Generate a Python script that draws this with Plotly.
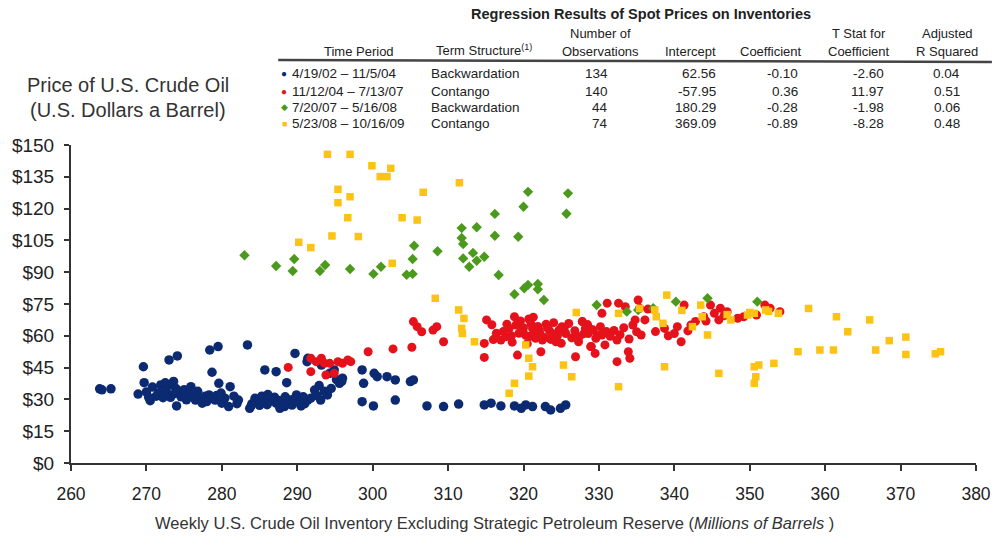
import plotly.graph_objects as go

# ---------------- data ----------------
blue_x = [263.8, 264.1, 265.3, 269.6, 268.9, 269.7, 270.5, 273.0, 274.1, 271.9, 272.6, 273.4, 273.9, 274.3, 274.0,
          275.9, 276.5, 277.4, 278.3, 279.1, 279.6, 280.0, 281.1, 280.9, 282.2, 278.4, 279.5, 278.7, 283.4,
          283.7, 284.4, 284.8, 285.7, 286.6, 287.2, 287.7, 288.3, 289.0, 289.9, 290.5, 291.4, 292.3, 293.1, 294.0, 294.5, 295.6,
          285.7, 287.2, 288.6, 289.7, 291.3, 293.2, 294.3, 294.9, 291.4,
          298.6, 298.8, 300.2, 300.6, 301.9, 303.0, 305.0, 305.4, 298.6, 300.1, 303.0, 307.2, 309.4, 311.4,
          314.8, 315.7, 317.0, 318.8, 319.7, 320.3, 321.2, 322.9, 323.6, 324.9, 325.6,
          270.0, 270.8, 271.3, 271.6, 272.2, 272.8, 273.2, 273.8, 274.6, 275.0, 275.3, 275.7, 276.2, 276.8, 277.0,
          277.8, 278.0, 278.6, 279.3, 279.9, 280.4, 281.6, 282.0, 270.3, 272.5, 273.6,
          284.0, 285.0, 285.3, 286.0, 286.3, 287.0, 287.5, 288.0, 288.7, 289.3, 289.6, 290.2, 290.8, 291.0, 291.8,
          292.6, 292.9, 293.6, 295.2, 295.9, 296.0, 288.4, 286.1, 283.9]
blue_y = [35.0, 34.5, 35.0, 45.4, 32.5, 37.9, 29.4, 48.6, 50.5, 36.8, 34.4, 36.8, 35.2, 33.6, 26.9,
          36.0, 29.7, 28.2, 32.1, 29.7, 37.6, 28.2, 36.0, 26.6, 29.7, 53.3, 54.9, 42.8, 55.7,
          25.8, 30.5, 29.7, 29.7, 30.5, 28.2, 25.8, 26.6, 29.7, 32.1, 26.9, 29.7, 34.4, 29.7, 32.1, 35.2, 37.6,
          43.9, 43.1, 37.9, 51.7, 47.8, 46.2, 42.3, 43.9, 49.4,
          43.9, 37.6, 42.3, 40.7, 40.7, 39.2, 38.4, 39.2, 28.9, 26.9, 29.7, 26.9, 26.6, 27.8,
          27.4, 28.2, 26.9, 26.9, 25.8, 27.4, 26.6, 26.6, 25.0, 25.8, 27.4,
          33.5, 35.8, 31.5, 33.0, 30.8, 32.5, 31.0, 32.8, 31.2, 34.6, 29.8, 32.5, 31.0, 33.8, 30.8,
          31.5, 29.0, 30.5, 31.8, 33.0, 30.6, 31.5, 28.0, 31.0, 37.8, 38.5,
          28.0, 27.2, 31.5, 27.5, 29.0, 31.0, 29.5, 28.6, 28.0, 27.3, 30.3, 28.8, 31.2, 28.0, 30.6,
          31.8, 36.5, 33.8, 39.3, 38.5, 40.0, 31.2, 32.3, 27.0]

red_x = [288.8, 291.8, 292.5, 293.2, 293.6, 293.8, 294.3, 294.9, 295.4, 296.0, 296.7, 297.1, 291.8,
         299.4, 302.7, 305.2, 305.4, 305.9, 306.5, 308.0, 308.5, 309.4, 315.1, 314.8, 314.8,
         316.4, 317.0, 317.7, 318.1, 318.8, 319.0, 319.2, 319.9, 320.3, 320.7, 321.0, 321.2, 321.4, 321.6, 322.1,
         322.5, 322.3, 323.0, 323.4, 323.8, 324.3, 324.7, 325.1, 325.6, 326.9, 327.1, 327.8, 328.2, 328.6, 329.0, 329.6,
         327.8, 328.7, 327.4, 328.9, 329.5, 330.8, 330.4, 332.4, 332.4, 333.9, 334.1, 332.6, 333.5, 335.2, 335.4,
         334.5, 335.0, 335.6, 336.1, 338.7, 340.0, 340.9, 340.4, 341.3, 342.2, 343.9, 344.8, 345.3, 346.1, 347.0,
         345.9, 349.2, 350.9, 352.0, 352.7, 354.0, 330.4, 331.1,
         317.3, 317.8, 318.4, 318.5, 319.4, 319.6, 320.0, 320.5, 320.9, 321.3, 321.9, 322.2, 322.8, 323.2, 323.6,
         324.0, 324.5, 325.0, 325.4, 326.0, 326.4, 326.8, 327.3, 328.0, 328.5, 329.2, 329.8, 330.2, 331.0, 331.5,
         332.0, 332.8, 333.3, 334.0, 334.8, 336.5, 337.5, 339.2, 341.8, 342.8, 344.2, 346.6, 348.4, 316.0, 315.8]
red_y = [45.1, 49.4, 47.8, 49.4, 47.0, 41.5, 47.0, 42.3, 47.8, 47.0, 48.6, 47.8, 43.1,
         52.5, 53.8, 54.6, 66.7, 64.3, 61.9, 62.7, 64.3, 57.2, 67.5, 56.4, 49.8,
         61.2, 58.0, 59.6, 63.5, 69.0, 65.1, 50.9, 62.6, 60.2, 67.9, 65.6, 63.5, 61.2, 58.8, 62.7,
         58.0, 52.5, 65.5, 62.7, 61.1, 57.2, 62.7, 64.3, 61.1, 50.1, 59.6, 66.7, 63.5, 61.1, 54.9, 58.8,
         66.7, 63.5, 59.6, 54.9, 51.7, 55.7, 60.4, 58.0, 47.8, 52.5, 49.4, 75.4, 73.7, 76.9, 73.0,
         65.1, 61.9, 60.4, 67.5, 63.5, 61.1, 57.2, 64.3, 74.5, 65.1, 69.0, 74.5, 70.6, 73.0, 71.4,
         67.5, 69.0, 69.8, 74.5, 73.0, 71.4, 70.6, 75.4,
         62.0, 65.5, 60.0, 57.0, 61.2, 67.0, 63.8, 56.3, 59.8, 68.8, 64.4, 61.0, 59.2, 63.6, 58.3,
         66.2, 60.0, 56.5, 63.2, 65.8, 59.0, 62.4, 57.2, 61.0, 65.3, 62.8, 60.5, 64.3, 62.0, 59.8,
         62.5, 60.5, 63.8, 58.5, 67.5, 72.6, 62.0, 60.0, 62.3, 66.8, 67.0, 69.5, 68.3, 58.2, 65.2]

green_x = [283.0, 287.2, 289.4, 289.6, 293.0, 293.7, 297.0, 300.1, 301.1, 304.5, 305.3, 305.3, 305.5, 308.6,
           311.8, 311.8, 312.0, 312.0, 312.8, 313.3, 313.8, 313.8, 314.8, 316.2, 316.2, 319.3, 320.0, 320.6,
           325.7, 325.9, 316.7, 318.8, 320.1, 320.6, 321.9, 321.9, 322.7,
           329.7, 333.7, 335.2, 337.2, 340.2, 344.4, 351.0]
green_y = [98.0, 92.9, 90.6, 96.2, 90.6, 93.4, 91.5, 89.2, 92.6, 88.8, 89.2, 96.2, 102.5, 99.9,
           110.8, 106.1, 103.3, 96.5, 92.6, 99.1, 95.4, 111.2, 97.3, 117.5, 107.2, 106.7, 120.9, 127.9,
           117.6, 127.2, 88.7, 79.6, 82.4, 84.0, 84.4, 81.9, 76.9,
           74.5, 71.4, 72.2, 73.0, 76.1, 77.7, 76.1]

yellow_x = [294.0, 297.0, 295.4, 297.0, 295.4, 296.7, 294.6, 290.2, 291.8, 299.9, 302.4, 301.0, 301.9, 298.1,
            303.9, 305.9, 306.7, 311.5, 302.6, 308.3, 311.4, 312.1,
            311.8, 311.9, 313.5, 320.3, 320.7, 321.2, 320.7, 318.8, 318.1, 325.3, 326.4,
            332.6, 332.6, 335.4, 337.4, 337.6, 338.5, 338.7, 339.0, 342.4, 343.5, 343.7, 344.4, 345.9, 347.5,
            349.7, 350.6, 350.6, 350.8, 350.6, 351.2, 353.2, 352.1, 353.8, 356.4, 357.8, 359.3, 361.1, 361.5,
            363.0, 365.9, 366.7, 368.5, 370.7, 370.7, 374.6, 375.3,
            327.0, 341.0, 347.0, 350.0, 352.5]
yellow_y = [145.6, 145.6, 129.1, 125.6, 122.8, 115.7, 107.1, 104.1, 101.6, 140.2, 139.0, 135.1, 135.1, 106.8,
            115.7, 114.6, 127.7, 132.2, 94.2, 77.7, 72.2, 68.2,
            63.5, 61.1, 57.2, 55.7, 49.4, 45.4, 41.0, 37.6, 32.9, 46.2, 40.7,
            70.6, 36.0, 72.9, 72.2, 69.0, 65.9, 45.4, 79.2, 64.3, 74.5, 69.0, 60.4, 42.3, 67.5,
            69.8, 70.6, 45.4, 40.7, 37.6, 46.2, 47.0, 72.2, 70.6, 52.5, 72.9, 53.3, 53.3, 69.0,
            61.9, 67.5, 53.3, 57.7, 59.4, 51.2, 51.5, 52.5,
            71.0, 72.0, 70.0, 71.0, 71.5]

x_ticks = [260, 270, 280, 290, 300, 310, 320, 330, 340, 350, 360, 370, 380]
y_ticks = [0, 15, 30, 45, 60, 75, 90, 105, 120, 135, 150]
y_tick_labels = ["$0", "$15", "$30", "$45", "$60", "$75", "$90", "$105", "$120", "$135", "$150"]

# regression table
periods = ["4/19/02 \u2013 11/5/04", "11/12/04 \u2013 7/13/07", "7/20/07 \u2013 5/16/08", "5/23/08 \u2013 10/16/09"]
structures = ["Backwardation", "Contango", "Backwardation", "Contango"]
n_obs = ["134", "140", "44", "74"]
intercepts = ["62.56", "-57.95", "180.29", "369.09"]
coefs = ["-0.10", "0.36", "-0.28", "-0.89"]
tstats = ["-2.60", "11.97", "-1.98", "-8.28"]
adj_r2 = ["0.04", "0.51", "0.06", "0.48"]

# ---------------- styles ----------------
COL_BLUE = "#0c2a72"
COL_RED = "#e5121c"
COL_GREEN = "#4c9a1d"
COL_YELLOW = "#fcc214"
series_colors = [COL_BLUE, COL_RED, COL_GREEN, COL_YELLOW]
series_glyphs = ["\u25CF", "\u25CF", "\u25C6", "\u25A0"]

FONT = "Liberation Sans, Arial, sans-serif"

W, H = 1003, 540
L, R, T, B = 71, 984, 145, 463

def px(x):
    return (x - L) / (R - L)

def py(y):
    return (B - y) / (B - T)

fig = go.Figure()
fig.add_trace(go.Scatter(x=blue_x, y=blue_y, mode="markers", name="blue",
                         marker=dict(symbol="circle", size=9.5, color=COL_BLUE, line=dict(width=0))))
fig.add_trace(go.Scatter(x=red_x, y=red_y, mode="markers", name="red",
                         marker=dict(symbol="circle", size=9, color=COL_RED, line=dict(width=0))))
fig.add_trace(go.Scatter(x=green_x, y=green_y, mode="markers", name="green",
                         marker=dict(symbol="diamond", size=8, color=COL_GREEN, line=dict(width=0))))
fig.add_trace(go.Scatter(x=yellow_x, y=yellow_y, mode="markers", name="yellow",
                         marker=dict(symbol="square", size=7.5, color=COL_YELLOW, line=dict(width=0))))

ann = []
def add(text, x, y, size=13, xanchor="center", color="#222", family=FONT, yanchor="middle"):
    ann.append(dict(text=text, x=px(x), y=py(y), xref="paper", yref="paper", showarrow=False,
                    xanchor=xanchor, yanchor=yanchor, font=dict(size=size, color=color, family=family)))

# table title & headers
add("<b>Regression Results of Spot Prices on Inventories</b>", 646, 14, size=14.5)
add("Number of", 605, 33)
add("T Stat for", 866, 33)
add("Adjusted", 955, 33)
add("Time Period", 362, 51)
add("Term Structure<sup>(1)</sup>", 488, 50)
add("Observations", 605, 51)
add("Intercept", 696, 51)
add("Coefficient", 777, 51)
add("Coefficient", 866, 51)
add("R Squared", 955, 51)

row_y = [74, 91, 107, 124]
for i in range(4):
    yy = row_y[i]
    add(series_glyphs[i], 286, yy, size=10 if i < 2 else 9, color=series_colors[i])
    add(periods[i], 292, yy, xanchor="left", size=13.5)
    add(structures[i], 432, yy, xanchor="left", size=13.5)
    add(n_obs[i], 615, yy, xanchor="right", size=13.5)
    add(intercepts[i], 724, yy, xanchor="right", size=13.5)
    add(coefs[i], 806, yy, xanchor="right", size=13.5)
    add(tstats[i], 893, yy, xanchor="right", size=13.5)
    add(adj_r2[i], 970, yy, xanchor="right", size=13.5)

# y axis title
add("Price of U.S. Crude Oil", 128, 85, size=20, color="#333")
add("(U.S. Dollars a Barrel)", 128, 110, size=20, color="#333")

# x axis title
add("Weekly U.S. Crude Oil Inventory Excluding Strategic Petroleum Reserve (<i>Millions of Barrels</i> )",
    498, 523, size=16.5, color="#333")

shapes = [
    dict(type="line", xref="paper", yref="paper", x0=px(280), x1=px(1000), y0=py(60), y1=py(62),
         line=dict(color="#444", width=2.5)),
]

fig.update_layout(
    width=W, height=H,
    margin=dict(l=L, r=W - R, t=T, b=H - B),
    paper_bgcolor="white", plot_bgcolor="white",
    showlegend=False,
    annotations=ann, shapes=shapes,
    font=dict(family=FONT, color="#222"),
)
fig.update_xaxes(range=[260, 380], tickmode="array", tickvals=x_ticks,
                 ticktext=[str(v) for v in x_ticks],
                 showgrid=False, zeroline=False, showline=True, linecolor="#333", linewidth=2,
                 ticks="outside", ticklen=6, tickwidth=1.5, tickcolor="#333",
                 ticklabelstandoff=8,
                 tickfont=dict(family=FONT, size=17.5, color="#222"))
fig.update_yaxes(range=[0, 150], tickmode="array", tickvals=y_ticks, ticktext=y_tick_labels,
                 showgrid=False, zeroline=False, showline=True, linecolor="#333", linewidth=2,
                 ticks="outside", ticklen=5, tickwidth=1.5, tickcolor="#333",
                 ticklabelstandoff=6,
                 tickfont=dict(family=FONT, size=19, color="#222"))

fig.write_html("out.html", config={"displayModeBar": False},
               post_script="document.body.style.margin='0';document.body.style.overflow='hidden';")
